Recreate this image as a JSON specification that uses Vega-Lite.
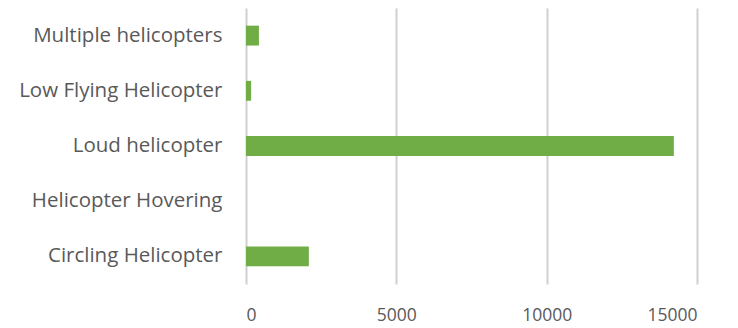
{
  "$schema": "https://vega.github.io/schema/vega-lite/v6.json",
  "autosize": "none",
  "width": 451,
  "height": 276,
  "padding": {"left": 246, "top": 8, "right": 41, "bottom": 44},
  "background": "white",
  "data": {"values": [
    {"category": "Multiple helicopters", "count": 430},
    {"category": "Low Flying Helicopter", "count": 170},
    {"category": "Loud helicopter", "count": 14230},
    {"category": "Helicopter Hovering", "count": 0},
    {"category": "Circling Helicopter", "count": 2090}
  ]},
  "mark": {"type": "bar", "color": "#70ad47"},
  "encoding": {
    "y": {"field": "category", "type": "nominal", "sort": null,
      "scale": {"paddingInner": 0.64, "paddingOuter": 0.32},
      "axis": {"title": null, "domain": false, "ticks": false, "grid": false, "labelPadding": 24, "labelLimit": 300,
        "labelFont": "Open Sans", "labelFontSize": 20.5, "labelColor": "#595959"}},
    "x": {"field": "count", "type": "quantitative",
      "scale": {"domain": [0, 15000], "nice": false},
      "axis": {"title": null, "domain": false, "ticks": false, "values": [0, 5000, 10000, 15000],
        "format": "d", "gridColor": "#d0d0d0", "gridWidth": 2, "labelPadding": 22,
        "labelFont": "Open Sans", "labelFontSize": 17.5, "labelColor": "#595959"}}
  },
  "config": {"view": {"stroke": null}}
}
